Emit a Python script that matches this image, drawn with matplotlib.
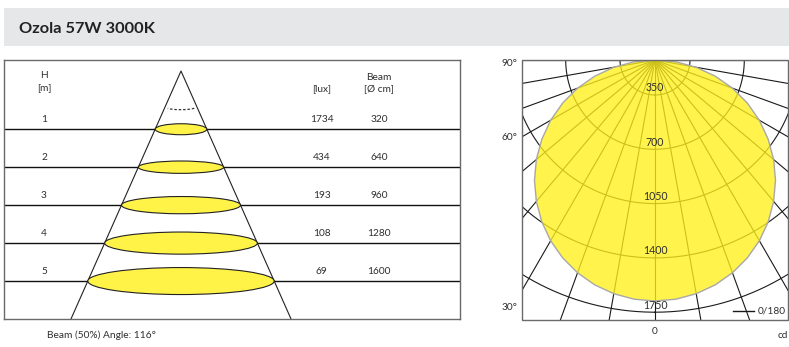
import numpy as np
import matplotlib
matplotlib.use("Agg")
import matplotlib.pyplot as plt
from matplotlib.patches import Ellipse, Rectangle, Arc
from matplotlib.lines import Line2D

# ---------------- data ----------------
title = "Ozola 57W 3000K"
heights_m = [1, 2, 3, 4, 5]
illuminance_lux = [1734, 434, 193, 108, 69]
beam_diameter_cm = [320, 640, 960, 1280, 1600]
beam_caption = "Beam (50%) Angle: 116°"

polar_angles_deg = [0, 5, 10, 15, 20, 25, 30, 35, 40, 45,
                    50, 55, 60, 65, 70, 75, 80, 85, 90]
intensity_cd = [1678, 1672, 1654, 1625, 1584, 1532, 1470, 1397, 1314, 1223,
                1123, 1015, 901, 781, 656, 526, 394, 260, 125]
cd_ticks = [350, 700, 1050, 1400, 1750]
angle_labels = ["90°", "60°", "30°"]
legend_label = "0/180"

# ---------------- figure ----------------
W, H = 789, 347
fig = plt.figure(figsize=(W / 100, H / 100), dpi=100)
FONT = ["Lato", "DejaVu Sans"]
TXT = "#2e2e2e"
YEL = "#fff347"


def frect(x0, y0, x1, y1):
    return [x0 / W, 1 - y1 / H, (x1 - x0) / W, (y1 - y0) / H]


def fx(x):
    return x / W


def fy(y):
    return 1 - y / H


# title band
fig.add_artist(Rectangle((fx(4), fy(45.7)), (W - 4) / W, 37.7 / H,
                         transform=fig.transFigure, facecolor="#e6e7e9",
                         edgecolor="none", zorder=0))
ttl = fig.text(fx(19), fy(33.2), title, fontsize=12.6, fontweight="bold",
               family=["Lato", "DejaVu Sans"], color="#222222",
               ha="left", va="baseline")
renderer = fig.canvas.get_renderer()
tw = ttl.get_window_extent(renderer).width
ttl.set_fontsize(12.6 * 136.0 / tw)

# ---------------- polar diagram ----------------
R_PX = 300.0
cx, cy = 655.0, 60.0
k = 54.3 / 350.0               # px per cd
r0 = 350.0 - 35.0 / k          # value at the diagram origin
rmax = r0 + R_PX / k

axP = fig.add_axes(frect(cx - R_PX, cy - R_PX, cx + R_PX, cy + R_PX),
                   projection="polar", zorder=1)
axP.set_theta_zero_location("S")
axP.set_rlim(r0, rmax)
axP.axis("off")
axP.patch.set_visible(False)

box = Rectangle((fx(522), fy(320)), (788 - 522) / W, 260 / H,
                transform=fig.transFigure, facecolor="none",
                edgecolor="#6a6a6a", lw=1.0, zorder=10)
clip = Rectangle((fx(522), fy(320)), (788 - 522) / W, 260 / H,
                 transform=fig.transFigure, facecolor="none")

arts = []
for a in range(0, 360, 10):
    t = np.radians(a)
    arts += axP.plot([t, t], [r0, rmax], color="#1a1a1a", lw=0.8, zorder=2)
th = np.linspace(0, 2 * np.pi, 1441)
for c in cd_ticks:
    arts += axP.plot(th, np.full_like(th, c), color="#1a1a1a", lw=0.8, zorder=2)

ang = np.array(polar_angles_deg, dtype=float)
val = np.array(intensity_cd, dtype=float)
full_ang = np.radians(np.concatenate([-ang[::-1], ang[1:]]))
full_val = np.concatenate([val[::-1], val[1:]])
arts += axP.fill(full_ang, full_val, facecolor=(1.0, 0.94, 0.10), alpha=0.78,
                 edgecolor="none", zorder=3)
arts += axP.plot(full_ang, full_val, color="#a8a8a8", lw=1.0, zorder=4)
for c in cd_ticks:
    arts.append(axP.annotate(str(c), xy=(0, c), xytext=(0, 1.2),
                             textcoords="offset points", ha="center",
                             va="bottom", fontsize=7.6, family=FONT,
                             color=TXT, zorder=5))
for a_ in arts:
    a_.set_clip_path(clip)
fig.add_artist(box)

for lab, yy in zip(angle_labels, [63, 138, 308]):
    fig.text(fx(517), fy(yy), lab, fontsize=7.3, family=FONT, color=TXT,
             ha="right", va="center")
fig.text(fx(655), fy(332), "0", fontsize=7.3, family=FONT, color=TXT,
         ha="center", va="center")
fig.text(fx(788), fy(336), "cd", fontsize=7.3, family=FONT, color=TXT,
         ha="right", va="center")
fig.add_artist(Line2D([fx(733), fx(754)], [fy(311), fy(311)],
                      transform=fig.transFigure, color="#1a1a1a", lw=1.0))
fig.text(fx(758), fy(311), legend_label, fontsize=7.3, family=FONT, color=TXT,
         ha="left", va="center")

# ---------------- left: beam cone table ----------------
axL = fig.add_axes(frect(4, 60, 460, 319), zorder=2)
axL.set_xlim(-177, 279)
axL.set_ylim(6.0, -0.824)
axL.set_xticks([])
axL.set_yticks([])
for s in axL.spines.values():
    s.set_color("#6a6a6a")
    s.set_linewidth(1.0)

PX_PER_M = 38.0
apex = -0.534
cone_c = 16.84                 # half-width px per metre below apex
col_h, col_lux, col_beam = -137, 140.7, 198.3

for h in heights_m:
    axL.axhline(h, color="#111111", lw=1.0, zorder=1)

hw_bottom = cone_c * (6.0 - apex)
axL.plot([-hw_bottom, 0, hw_bottom], [6.0, apex, 6.0], color="#222222",
         lw=0.8, zorder=2, clip_on=True)


def ym(px):
    return 1 + (px - 129.3) / PX_PER_M


axL.add_patch(Arc((0, ym(108.0)), 26, 2 * 1.7 / PX_PER_M, theta1=0,
                  theta2=180, color="#333333", lw=0.9,
                  linestyle=(0, (2.0, 1.5)), zorder=2))

for h, lux, bd in zip(heights_m, illuminance_lux, beam_diameter_cm):
    hw = cone_c * (h - apex)
    hh = max(0.145 * hw, 5.5) / PX_PER_M
    axL.add_patch(Ellipse((0, h), 2 * hw, 2 * hh, facecolor=YEL,
                          edgecolor="#222222", lw=0.8, zorder=3))
    ty = h - 9.3 / PX_PER_M
    axL.text(col_h, ty, str(h), ha="center", va="center", fontsize=7.3,
             family=FONT, color=TXT)
    axL.text(col_lux, ty, str(lux), ha="center", va="center", fontsize=7.3,
             family=FONT, color=TXT)
    axL.text(col_beam, ty, str(bd), ha="center", va="center", fontsize=7.3,
             family=FONT, color=TXT)

axL.text(col_h, ym(75.7), "H", ha="center", va="center", fontsize=7.3,
         family=FONT, color=TXT)
axL.text(col_h, ym(89), "[m]", ha="center", va="center", fontsize=7.3,
         family=FONT, color=TXT)
axL.text(col_lux, ym(89), "[lux]", ha="center", va="center", fontsize=7.3,
         family=FONT, color=TXT)
axL.text(col_beam, ym(77.7), "Beam", ha="center", va="center", fontsize=7.3,
         family=FONT, color=TXT)
axL.text(col_beam, ym(89), "[Ø cm]", ha="center", va="center", fontsize=7.3,
         family=FONT, color=TXT)

fig.text(fx(47), fy(335), beam_caption, fontsize=7.3, family=FONT, color=TXT,
         ha="left", va="center")

fig.savefig("out.png", dpi=100)
